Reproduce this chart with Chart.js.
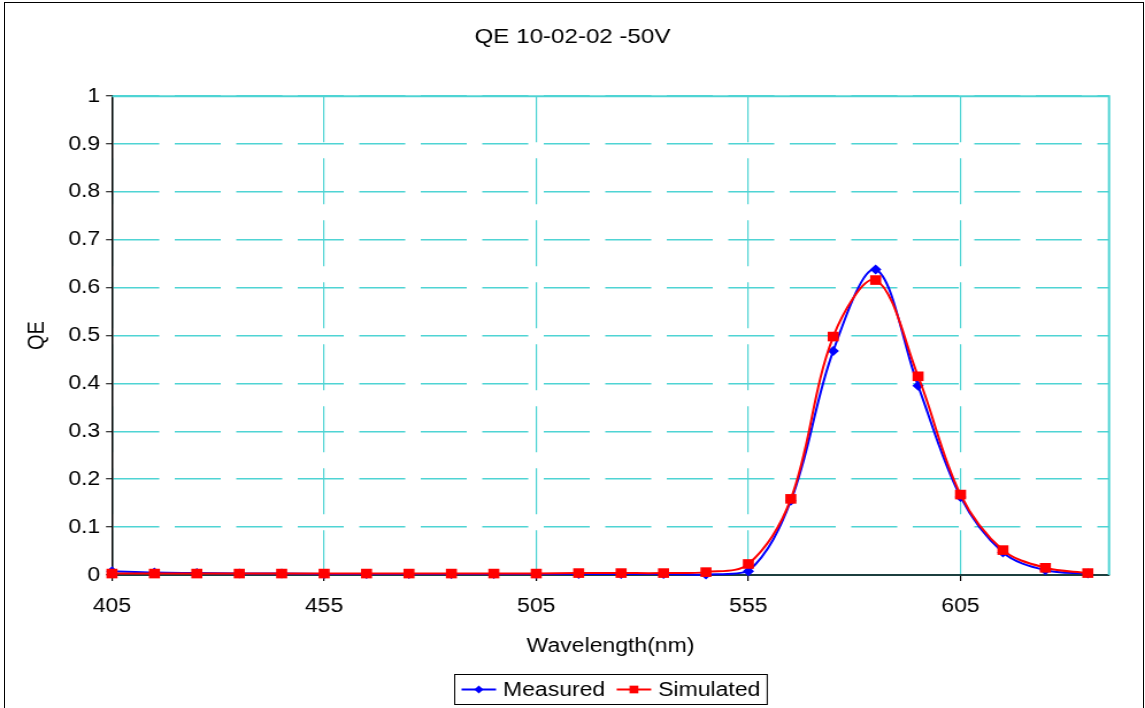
<!DOCTYPE html>
<html>
<head>
<meta charset="utf-8">
<script src="https://cdn.jsdelivr.net/npm/chart.js@4.4.1/dist/chart.umd.min.js"></script>
<style>
  html, body { margin: 0; padding: 0; background: #fff; overflow: hidden; }
  /* the chart is laid out narrower and stretched sideways to the page width */
  #wrap { position: absolute; left: 0; top: 0; width: 996px; height: 708px;
          transform: scaleX(1.1496); transform-origin: 0 0; }
  #frame { position: absolute; left: 4px; top: 2px; width: 1140px; height: 720px;
           border: 1px solid #000; box-sizing: border-box; pointer-events: none; }
</style>
</head>
<body>
<div id="wrap"><canvas id="qe" width="996" height="708"></canvas></div>
<div id="frame"></div>
<script>
// Wavelength samples (nm)
const wavelengths = [405, 415, 425, 435, 445, 455, 465, 475, 485, 495, 505, 515,
                     525, 535, 545, 555, 565, 575, 585, 595, 605, 615, 625, 635];
// Quantum efficiency at each wavelength
const measured  = [0.008, 0.005, 0.004, 0.003, 0.003, 0.002, 0.002, 0.002, 0.002, 0.002, 0.002, 0.002,
                   0.002, 0.002, 0.001, 0.008, 0.155, 0.468, 0.638, 0.395, 0.163, 0.047, 0.010, 0.003];
const simulated = [0.003, 0.003, 0.003, 0.003, 0.003, 0.003, 0.003, 0.003, 0.003, 0.003, 0.003, 0.004,
                   0.004, 0.004, 0.006, 0.023, 0.159, 0.498, 0.616, 0.415, 0.168, 0.052, 0.015, 0.004];
// Axis ticks
const xTicks = [405, 455, 505, 555, 605];
const xMin = 405, xMax = 640;
const yMin = 0, yMax = 1, yStep = 0.1;

const FONT = 'Liberation Sans';
const GRID = '#4fd4d4';

const toPoints = vals => wavelengths.map((x, i) => ({ x, y: vals[i] }));

// solid cyan lines closing the plot on the top and right
const plotFrame = {
  id: 'plotFrame',
  beforeDatasetsDraw(chart) {
    const { ctx, chartArea: a } = chart;
    ctx.save();
    ctx.strokeStyle = GRID;
    ctx.lineWidth = 2;
    ctx.beginPath();
    ctx.moveTo(a.left, a.top);
    ctx.lineTo(a.right, a.top);
    ctx.lineTo(a.right, a.bottom);
    ctx.stroke();
    ctx.restore();
  }
};

function drawMarker(ctx, style, r, x, y) {
  if (style === 'rect') {
    const h = r * Math.SQRT1_2;
    ctx.rect(x - h, y - h, 2 * h, 2 * h);
  } else {
    ctx.moveTo(x, y - r);
    ctx.lineTo(x + r, y);
    ctx.lineTo(x, y + r);
    ctx.lineTo(x - r, y);
    ctx.closePath();
  }
}

// legend showing each series as a line with its marker, in a boxed row
const lineMarkerLegend = {
  id: 'lineMarkerLegend',
  afterDraw(chart) {
    const { ctx, chartArea: a } = chart;
    const sets = chart.data.datasets;
    ctx.save();
    ctx.font = '20px "' + FONT + '"';
    const lineLen = 30, gapText = 6, gapItem = 10, padX = 6;
    const widths = sets.map(d => lineLen + gapText + ctx.measureText(d.label).width);
    const total = padX * 2 + widths.reduce((s, w) => s + w, 0) + gapItem * (sets.length - 1);
    const cx = (a.left + a.right) / 2;
    const boxTop = 674.5, boxH = 30;
    const left = Math.round(cx - total / 2) + 0.5;
    ctx.strokeStyle = '#000';
    ctx.lineWidth = 1;
    ctx.strokeRect(left, boxTop, total, boxH);
    const cy = boxTop + boxH / 2;
    let x = left + padX;
    sets.forEach((d, i) => {
      ctx.strokeStyle = d.borderColor;
      ctx.lineWidth = 2;
      ctx.beginPath();
      ctx.moveTo(x, cy);
      ctx.lineTo(x + lineLen, cy);
      ctx.stroke();
      ctx.fillStyle = d.backgroundColor;
      ctx.beginPath();
      drawMarker(ctx, d.pointStyle, d.pointRadius * 0.8, x + lineLen / 2, cy);
      ctx.fill();
      ctx.fillStyle = '#000';
      ctx.textBaseline = 'middle';
      ctx.textAlign = 'left';
      ctx.fillText(d.label, x + lineLen + gapText, cy + 1);
      x += widths[i] + gapItem;
    });
    ctx.restore();
  }
};

new Chart(document.getElementById('qe'), {
  type: 'line',
  data: {
    datasets: [
      {
        label: 'Measured',
        data: toPoints(measured),
        borderColor: '#0000ff',
        backgroundColor: '#0000ff',
        borderWidth: 2,
        pointStyle: 'rectRot',
        pointRadius: 5,
        pointBorderWidth: 0,
        tension: 0.35,
        clip: false,
        order: 2
      },
      {
        label: 'Simulated',
        data: toPoints(simulated),
        borderColor: '#ff0000',
        backgroundColor: '#ff0000',
        borderWidth: 2,
        pointStyle: 'rect',
        pointRadius: 6.8,
        pointBorderWidth: 0,
        tension: 0.35,
        clip: false,
        order: 1
      }
    ]
  },
  options: {
    responsive: false,
    animation: false,
    events: [],
    layout: { padding: { left: 0, right: 0, top: 0, bottom: 48 } },
    plugins: {
      legend: { display: false },
      tooltip: { enabled: false },
      title: {
        display: true,
        text: 'QE 10-02-02 -50V',
        color: '#000',
        font: { family: FONT, size: 21, weight: 'normal' },
        padding: { top: 25, bottom: 46 }
      }
    },
    scales: {
      x: {
        type: 'linear',
        min: xMin,
        max: xMax,
        afterBuildTicks: s => { s.ticks = xTicks.map(v => ({ value: v })); },
        afterFit: s => { s.height = 85; },
        grid: {
          color: GRID,
          lineWidth: 1.2,
          tickLength: 6,
          tickColor: '#000',
          tickWidth: 1.2
        },
        border: { display: true, color: '#1c3f3f', width: 2, dash: [46, 16] },
        ticks: {
          color: '#000',
          font: { family: FONT, size: 20 },
          padding: 13,
          maxRotation: 0,
          autoSkip: false
        },
        title: {
          display: true,
          text: 'Wavelength(nm)',
          color: '#000',
          font: { family: FONT, size: 20 },
          padding: { top: 0, bottom: 2 }
        }
      },
      y: {
        min: yMin,
        max: yMax,
        afterFit: s => { s.width = 97.4; },
        grid: {
          color: GRID,
          lineWidth: 1.5,
          tickLength: 5.2,
          tickColor: '#000',
          tickWidth: 1
        },
        border: { display: true, color: '#000', width: 1.5, dash: [40, 13.5] },
        ticks: {
          stepSize: yStep,
          color: '#000',
          font: { family: FONT, size: 20 },
          padding: 5,
          callback: v => String(+Number(v).toFixed(1))
        },
        title: {
          display: true,
          text: 'QE',
          color: '#000',
          font: { family: FONT, size: 20 },
          padding: { top: 20, bottom: 0 }
        }
      },
      // empty right-hand margin column so the plot stops short of the edge
      yRight: {
        position: 'right',
        display: true,
        afterFit: s => { s.width = 31.3; },
        grid: { display: false, drawTicks: false },
        border: { display: false },
        ticks: { display: false }
      }
    }
  },
  plugins: [plotFrame, lineMarkerLegend]
});
</script>
</body>
</html>
